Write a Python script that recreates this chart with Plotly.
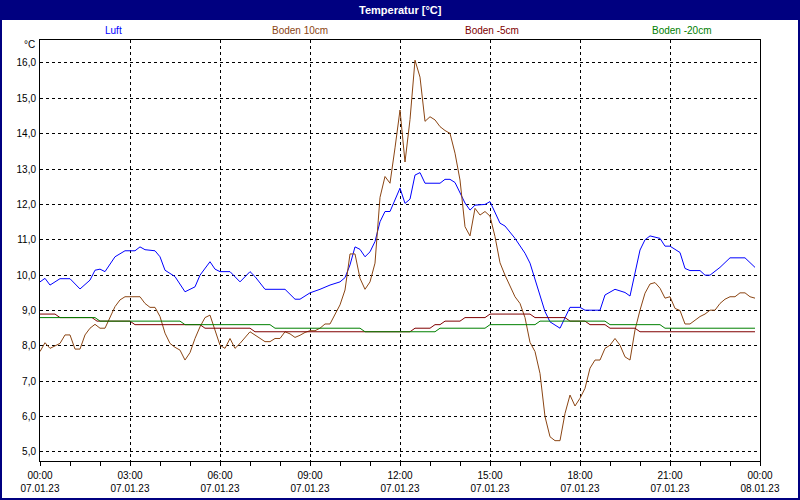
import plotly.graph_objects as go

# ---------------- data ----------------
series_names = ["Luft", "Boden 10cm", "Boden -5cm", "Boden -20cm"]
series_colors = ["#0000FF", "#8B4513", "#800000", "#008000"]

# minutes after 07.01.23 00:00
luft_min = [0, 10, 20, 40, 60, 80, 100, 110, 120, 130, 150, 170, 190, 200, 210, 230, 240, 250,
            270, 290, 310, 320, 340, 350, 360, 380, 400, 420, 430, 450, 490, 510, 520, 540,
            560, 580, 600, 610, 620, 630, 640, 650, 660, 670, 680, 690, 700, 720, 730, 740,
            750, 760, 770, 800, 810, 820, 830, 840, 850, 860, 870, 890, 900, 920, 930, 950,
            970, 980, 990, 1000, 1010, 1020, 1040, 1060, 1080, 1090, 1120, 1130, 1150, 1170,
            1180, 1200, 1210, 1220, 1240, 1250, 1260, 1280, 1290, 1300, 1320, 1330, 1340,
            1360, 1380, 1410, 1430]
luft_val = [9.81, 9.91, 9.72, 9.9, 9.9, 9.61, 9.86, 10.14, 10.17, 10.1, 10.52, 10.69, 10.69,
            10.8, 10.72, 10.69, 10.52, 10.14, 9.96, 9.53, 9.67, 10.0, 10.38, 10.17, 10.1,
            10.1, 9.81, 10.1, 9.96, 9.6, 9.6, 9.32, 9.32, 9.5, 9.6, 9.72, 9.81, 9.93, 10.29,
            10.8, 10.73, 10.52, 10.66, 10.95, 11.51, 11.8, 11.8, 12.46, 12.03, 12.15, 12.83,
            12.9, 12.6, 12.6, 12.71, 12.71, 12.62, 12.31, 12.04, 11.84, 11.98, 12.0, 12.08,
            11.47, 11.39, 11.04, 10.62, 10.34, 9.86, 9.44, 8.97, 8.68, 8.5, 9.09, 9.09, 9.01,
            9.01, 9.44, 9.6, 9.51, 9.41, 10.71, 11.0, 11.11, 11.04, 10.82, 10.82, 10.64,
            10.19, 10.13, 10.13, 10.0, 10.0, 10.22, 10.49, 10.49, 10.22]

b10_min = [0, 10, 20, 40, 50, 60, 70, 80, 90, 100, 110, 120, 130, 140, 150, 160, 170, 200,
           210, 220, 230, 240, 250, 260, 270, 280, 290, 300, 310, 320, 330, 340, 350, 360,
           370, 380, 390, 400, 420, 430, 450, 460, 470, 480, 490, 500, 510, 520, 530, 540,
           550, 560, 570, 580, 590, 600, 610, 620, 630, 640, 650, 660, 670, 680, 690, 700,
           710, 720, 730, 740, 750, 760, 770, 780, 790, 800, 810, 820, 830, 840, 850, 860,
           870, 880, 890, 900, 910, 920, 930, 940, 950, 960, 970, 980, 990, 1000, 1010,
           1020, 1030, 1040, 1050, 1060, 1070, 1080, 1090, 1100, 1110, 1120, 1130, 1140,
           1150, 1160, 1170, 1180, 1190, 1200, 1210, 1220, 1230, 1240, 1250, 1260, 1270,
           1280, 1290, 1300, 1310, 1320, 1330, 1340, 1350, 1360, 1370, 1380, 1390, 1400,
           1410, 1420, 1430]
b10_val = [7.84, 8.09, 7.93, 8.07, 8.31, 8.31, 7.91, 7.91, 8.31, 8.5, 8.61, 8.5, 8.5, 8.83,
           9.11, 9.3, 9.39, 9.39, 9.2, 9.09, 9.09, 8.83, 8.36, 8.07, 7.96, 7.88, 7.6, 7.81,
           8.21, 8.54, 8.8, 8.87, 8.45, 8.02, 7.93, 8.21, 7.93, 8.07, 8.4, 8.31, 8.12, 8.12,
           8.21, 8.21, 8.4, 8.34, 8.24, 8.3, 8.38, 8.43, 8.43, 8.5, 8.62, 8.62, 8.87, 9.16,
           9.58, 10.6, 10.6, 9.91, 9.6, 9.81, 10.34, 12.2, 12.79, 12.6, 13.6, 14.67, 13.2,
           14.4, 16.08, 15.6, 14.35, 14.48, 14.39, 14.2, 14.09, 14.01, 13.45, 12.69, 11.37,
           11.11, 11.89, 11.7, 11.8, 11.67, 11.09, 10.35, 10.0, 9.67, 9.39, 9.2, 8.8, 8.1,
           7.84, 7.22, 6.0, 5.43, 5.32, 5.32, 6.09, 6.61, 6.3, 6.52, 6.8, 7.37, 7.6, 7.6,
           7.93, 8.02, 8.21, 8.02, 7.69, 7.6, 8.45, 9.01, 9.49, 9.75, 9.79, 9.63, 9.35, 9.39,
           9.06, 9.0, 8.62, 8.62, 8.73, 8.83, 8.9, 9.01, 9.01, 9.2, 9.32, 9.39, 9.39, 9.5,
           9.5, 9.39, 9.35]

b5_min = [0, 30, 40, 104, 114, 180, 190, 320, 330, 420, 430, 740, 750, 780, 790, 800, 810,
          840, 850, 890, 900, 980, 990, 1050, 1060, 1090, 1100, 1130, 1140, 1190, 1200, 1430]
b5_val = [8.9, 8.9, 8.8, 8.8, 8.7, 8.7, 8.6, 8.6, 8.5, 8.5, 8.4, 8.4, 8.5, 8.5, 8.6, 8.6, 8.7,
          8.7, 8.8, 8.8, 8.9, 8.9, 8.8, 8.8, 8.7, 8.7, 8.6, 8.6, 8.5, 8.5, 8.4, 8.4]

b20_min = [0, 110, 120, 280, 290, 460, 470, 640, 650, 790, 800, 890, 900, 990, 1000, 1130,
           1140, 1240, 1250, 1430]
b20_val = [8.8, 8.8, 8.7, 8.7, 8.6, 8.6, 8.5, 8.5, 8.4, 8.4, 8.5, 8.5, 8.6, 8.6, 8.7, 8.7,
           8.6, 8.6, 8.5, 8.5]

tick_hours = [0, 3, 6, 9, 12, 15, 18, 21, 24]
tick_times = ["00:00", "03:00", "06:00", "09:00", "12:00", "15:00", "18:00", "21:00", "00:00"]
tick_dates = ["07.01.23"] * 8 + ["08.01.23"]
y_ticks = [5, 6, 7, 8, 9, 10, 11, 12, 13, 14, 15, 16]

# ---------------- figure ----------------
W, H = 800, 500
L, R, T, B = 40, 40, 40, 39
PW, PH = W - L - R, H - T - B
FONT = "Liberation Sans, Arial, sans-serif"
NAVY = "#000080"


def px_x(x):
    return (x - L) / PW


def px_y(y):
    return 1 - (y - T) / PH


fig = go.Figure()
all_series = [(luft_min, luft_val), (b10_min, b10_val), (b5_min, b5_val), (b20_min, b20_val)]
for (mins, vals), name, col in zip(all_series, series_names, series_colors):
    fig.add_trace(go.Scatter(
        x=[m / 60 for m in mins], y=vals, mode="lines", name=name,
        line=dict(color=col, width=1), showlegend=False, hoverinfo="skip"))

grid = dict(showgrid=True, gridcolor="black", gridwidth=1, griddash="3px,3px",
            showline=True, linecolor="black", linewidth=1, mirror=True, zeroline=False,
            automargin=False, tickfont=dict(family=FONT, size=10, color="#000000"))

fig.update_layout(
    width=W, height=H, margin=dict(l=L, r=R, t=T, b=B, pad=0, autoexpand=False),
    paper_bgcolor="white", plot_bgcolor="white", separators=",.",
    xaxis=dict(range=[0, 24], tickmode="array", tickvals=tick_hours,
               ticktext=[f"{t}<br>{d}" for t, d in zip(tick_times, tick_dates)],
               ticks="outside", ticklen=4, tickcolor="black", tickwidth=1,
               ticklabelstandoff=1,
               minor=dict(tickmode="array", tickvals=list(range(25)), ticks="outside",
                          ticklen=4, tickcolor="black", showgrid=False),
               **grid),
    yaxis=dict(range=[4.745, 16.65], tickmode="array", tickvals=y_ticks, tickformat=".1f",
               ticks="", ticklabelstandoff=1, **grid),
)

shapes = [
    dict(type="rect", xref="paper", yref="paper", x0=px_x(0), x1=px_x(W),
         y0=px_y(20), y1=px_y(0), fillcolor=NAVY, line=dict(width=0), layer="above"),
    dict(type="rect", xref="paper", yref="paper", x0=px_x(0), x1=px_x(2),
         y0=px_y(H), y1=px_y(0), fillcolor=NAVY, line=dict(width=0), layer="above"),
    dict(type="rect", xref="paper", yref="paper", x0=px_x(W - 2), x1=px_x(W),
         y0=px_y(H), y1=px_y(0), fillcolor=NAVY, line=dict(width=0), layer="above"),
    dict(type="rect", xref="paper", yref="paper", x0=px_x(0), x1=px_x(W),
         y0=px_y(H), y1=px_y(H - 2), fillcolor=NAVY, line=dict(width=0), layer="above"),
]
fig.update_layout(shapes=shapes)

annotations = [
    dict(text="<b>Temperatur [°C]</b>", x=px_x(400), y=px_y(10), xref="paper", yref="paper",
         showarrow=False, xanchor="center", yanchor="middle",
         font=dict(family=FONT, size=11, color="white")),
    dict(text="°C", x=px_x(37), y=px_y(44), xref="paper", yref="paper", showarrow=False,
         xanchor="right", yanchor="middle", font=dict(family=FONT, size=10, color="black")),
]
legend_x = [113, 300, 492, 681]
for name, col, lx in zip(series_names, series_colors, legend_x):
    annotations.append(dict(text=name, x=px_x(lx), y=px_y(31), xref="paper", yref="paper",
                            showarrow=False, xanchor="center", yanchor="middle",
                            font=dict(family=FONT, size=10, color=col)))
fig.update_layout(annotations=annotations)

fig.write_html("out.html", config={"displayModeBar": False},
               post_script="document.body.style.margin='0';document.body.style.overflow='hidden';")
